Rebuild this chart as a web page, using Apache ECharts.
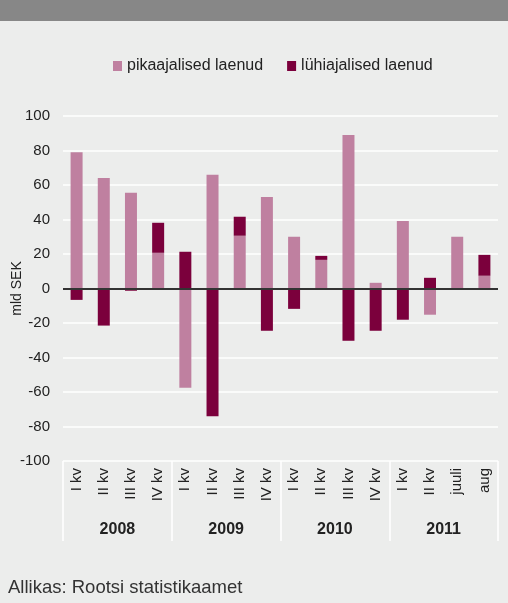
<!DOCTYPE html>
<html>
<head>
<meta charset="utf-8">
<script src="https://cdn.jsdelivr.net/npm/echarts@6/dist/echarts.min.js"></script>
<style>
  html, body { margin: 0; padding: 0; background: #ecedec; }
  #main { width: 508px; height: 603px; }
</style>
</head>
<body>
<div id="main"></div>
<script>
var quarters = ['I kv', 'II kv', 'III kv', 'IV kv', 'I kv', 'II kv', 'III kv', 'IV kv',
                'I kv', 'II kv', 'III kv', 'IV kv', 'I kv', 'II kv', 'juuli', 'aug'];
var years = ['2008', '2009', '2010', '2011'];
// pikaajalised laenud
var longTerm = [79, 64, 55.5, 20.7, -57.6, 66, 30.6, 53, 30, 16.6, 89, 3.3, 39.2, -15.2, 30, 7.4];
// lühiajalised laenud
var shortTerm = [-6.6, -21.5, -1.3, 17.4, 21.3, -74, 11, -24.5, -11.8, 2.3, -30.3, -24.5, -18.1, 6.2, 0, 12.1];

var myChart = echarts.init(document.getElementById('main'));

var font = 'Liberation Sans, Arial, sans-serif';

option = {
    backgroundColor: '#ecedec',
    textStyle: { fontFamily: font },
    animation: false,
    graphic: [
        { type: 'rect', shape: { x: 0, y: 0, width: 508, height: 21 }, style: { fill: '#878787' } },
        { type: 'text', left: 8, top: 578, style: { text: 'Allikas: Rootsi statistikaamet', fontSize: 18.5, fill: '#333', fontFamily: font } }
    ],
    legend: {
        top: 53,
        left: 108,
        itemWidth: 9,
        itemHeight: 10,
        itemGap: 24,
        icon: 'rect',
        textStyle: { fontSize: 16, color: '#222' },
        data: ['pikaajalised laenud', 'lühiajalised laenud']
    },
    grid: { left: 63, right: 10, top: 116, bottom: 142, outerBoundsMode: 'none' },
    xAxis: [
        {
            type: 'category',
            data: quarters,
            position: 'bottom',
            axisLine: { show: false, onZero: false },
            axisTick: { show: false },
            axisLabel: { rotate: 90, interval: 0, margin: 7, fontSize: 15, color: '#222' }
        },
        {
            type: 'category',
            data: years,
            position: 'bottom',
            axisLine: { show: false, onZero: false },
            axisTick: { show: true, interval: 0, length: 80, lineStyle: { color: '#ffffff', width: 1.5 } },
            axisLabel: { interval: 0, margin: 61, fontSize: 16, fontWeight: 'bold', color: '#222' }
        }
    ],
    yAxis: {
        type: 'value',
        min: -100,
        max: 100,
        interval: 20,
        name: 'mld SEK',
        nameLocation: 'middle',
        nameGap: 39,
        nameMoveOverlap: false,
        nameTextStyle: { fontSize: 14, color: '#222' },
        axisLine: { show: false },
        axisTick: { show: false },
        axisLabel: { fontSize: 15, color: '#222', margin: 13 },
        splitLine: { lineStyle: { color: '#ffffff', width: 1.5 } }
    },
    series: [
        {
            name: 'pikaajalised laenud',
            type: 'bar',
            stack: 'total',
            barWidth: 12,
            itemStyle: { color: '#bf80a0' },
            data: longTerm
        },
        {
            name: 'lühiajalised laenud',
            type: 'bar',
            stack: 'total',
            barWidth: 12,
            itemStyle: { color: '#7b003c' },
            data: shortTerm,
            markLine: {
                silent: true,
                symbol: 'none',
                label: { show: false },
                lineStyle: { color: '#333', width: 2, type: 'solid' },
                data: [{ yAxis: 0 }]
            }
        }
    ]
};

myChart.setOption(option);
</script>
</body>
</html>
